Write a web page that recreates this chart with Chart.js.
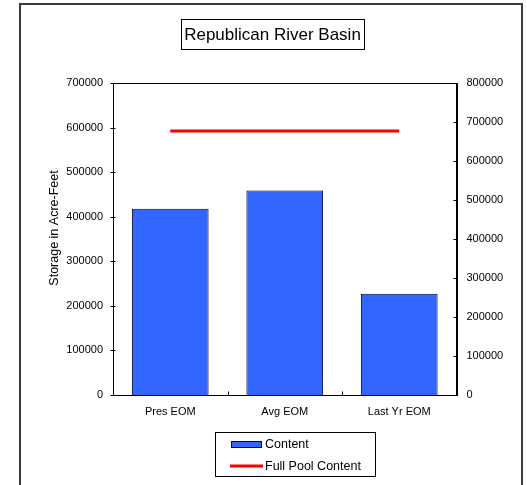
<!DOCTYPE html>
<html>
<head>
<meta charset="utf-8">
<script src="https://cdn.jsdelivr.net/npm/chart.js@4"></script>
<style>
    body { margin: 0; background: #fff; }
    #wrap { width: 527px; height: 485px; }
</style>
</head>
<body>
<div id="wrap"><canvas id="basinChart" width="527" height="485"></canvas></div>
<script>
// datos del grafico
const titulo = 'Republican River Basin';
const tituloEje = 'Storage in Acre-Feet';
const categorias = ['Pres EOM', 'Avg EOM', 'Last Yr EOM'];
const contenido = [418000, 459000, 227000];
const embalseLleno = [677000, 677000, 677000];
const ticksIzq = [0, 100000, 200000, 300000, 400000, 500000, 600000, 700000];
const ticksDer = [0, 100000, 200000, 300000, 400000, 500000, 600000, 700000, 800000];

const fuente = '"Liberation Sans", Arial, sans-serif';

// marco, marcas de los ejes, titulo, titulo del eje y leyenda
const cajasPlugin = {
    id: 'cajas',
    afterDraw(chart) {
        const ctx = chart.ctx;
        const a = chart.chartArea;
        const L = Math.round(a.left) + 0.5, R = Math.round(a.right) + 0.5;
        const T = Math.round(a.top) + 0.5, B = Math.round(a.bottom) + 0.5;
        ctx.save();

        // marco exterior
        ctx.strokeStyle = '#3a3a3a';
        ctx.lineWidth = 2;
        ctx.strokeRect(20, 4, 502, 520);

        // borde del area de trazado
        ctx.strokeStyle = '#000';
        ctx.lineWidth = 1;
        ctx.strokeRect(L, T, R - L, B - T);

        // marcas: izquierda cruzada, derecha e inferior hacia dentro
        ctx.beginPath();
        chart.scales.y.ticks.forEach(t => {
            const py = Math.round(chart.scales.y.getPixelForValue(t.value)) + 0.5;
            ctx.moveTo(L - 3, py); ctx.lineTo(L + 2, py);
        });
        chart.scales.y2.ticks.forEach(t => {
            const py = Math.round(chart.scales.y2.getPixelForValue(t.value)) + 0.5;
            ctx.moveTo(R - 4, py); ctx.lineTo(R, py);
        });
        const sx = chart.scales.x;
        for (let i = 1; i < categorias.length; i++) {
            const px = Math.round((sx.getPixelForValue(i - 1) + sx.getPixelForValue(i)) / 2) + 0.5;
            ctx.moveTo(px, B); ctx.lineTo(px, B - 4);
        }
        ctx.stroke();

        // titulo
        ctx.fillStyle = '#000';
        ctx.font = '17px ' + fuente;
        ctx.textAlign = 'center';
        ctx.textBaseline = 'middle';
        ctx.fillText(titulo, 272.5, 35);
        ctx.strokeRect(181.5, 19.5, 183, 30);

        // titulo del eje
        ctx.save();
        ctx.translate(55, 228);
        ctx.rotate(-Math.PI / 2);
        ctx.font = '12.5px ' + fuente;
        ctx.fillText(tituloEje, 0, 0);
        ctx.restore();

        // leyenda
        const ds = chart.data.datasets;
        ctx.strokeRect(215.5, 432.5, 160, 44);
        ctx.fillStyle = ds[0].backgroundColor;
        ctx.fillRect(231, 441, 31, 7);
        ctx.strokeStyle = ds[0].borderColor;
        ctx.strokeRect(231.5, 441.5, 30, 6);
        ctx.strokeStyle = ds[1].borderColor;
        ctx.lineWidth = 3;
        ctx.beginPath();
        ctx.moveTo(230, 466);
        ctx.lineTo(263, 466);
        ctx.stroke();
        ctx.fillStyle = '#000';
        ctx.font = '12.5px ' + fuente;
        ctx.textAlign = 'left';
        ctx.fillText(ds[0].label, 265, 445);
        ctx.fillText(ds[1].label, 265, 467);

        ctx.restore();
    }
};

const ctx = document.getElementById('basinChart').getContext('2d');

new Chart(ctx, {
    type: 'bar',
    data: {
        labels: categorias,
        datasets: [
            {
                label: 'Content',
                data: contenido,
                backgroundColor: '#3366ff',
                borderColor: '#000033',
                borderWidth: 1,
                barPercentage: 0.67,
                categoryPercentage: 1,
                yAxisID: 'y',
                order: 2
            },
            {
                type: 'line',
                label: 'Full Pool Content',
                data: embalseLleno,
                borderColor: '#ff0000',
                backgroundColor: '#ff0000',
                borderWidth: 3,
                pointRadius: 0,
                yAxisID: 'y2',
                order: 1
            }
        ]
    },
    options: {
        responsive: false,
        animation: false,
        layout: {
            padding: { left: 20, right: 5, top: 83, bottom: 60 }
        },
        plugins: {
            legend: { display: false },
            tooltip: { enabled: false }
        },
        scales: {
            x: {
                offset: true,
                grid: { display: false, drawTicks: false },
                border: { color: '#000' },
                ticks: { color: '#000', padding: 10, font: { family: fuente, size: 11 } },
                afterFit: (s) => { s.height = 30; }
            },
            y: {
                position: 'left',
                min: ticksIzq[0],
                max: ticksIzq[ticksIzq.length - 1],
                afterBuildTicks: (s) => { s.ticks = ticksIzq.map(v => ({ value: v })); },
                grid: { display: false, drawTicks: false },
                border: { color: '#000' },
                ticks: { color: '#000', padding: 10, font: { family: fuente, size: 11 }, callback: (v) => String(v) },
                afterFit: (s) => { s.width = 93; }
            },
            y2: {
                position: 'right',
                min: ticksDer[0],
                max: ticksDer[ticksDer.length - 1],
                afterBuildTicks: (s) => { s.ticks = ticksDer.map(v => ({ value: v })); },
                grid: { display: false, drawTicks: false },
                border: { color: '#000' },
                ticks: { color: '#000', padding: 10, font: { family: fuente, size: 11 }, callback: (v) => String(v) },
                afterFit: (s) => { s.width = 65.5; }
            }
        }
    },
    plugins: [cajasPlugin]
});
</script>
</body>
</html>
